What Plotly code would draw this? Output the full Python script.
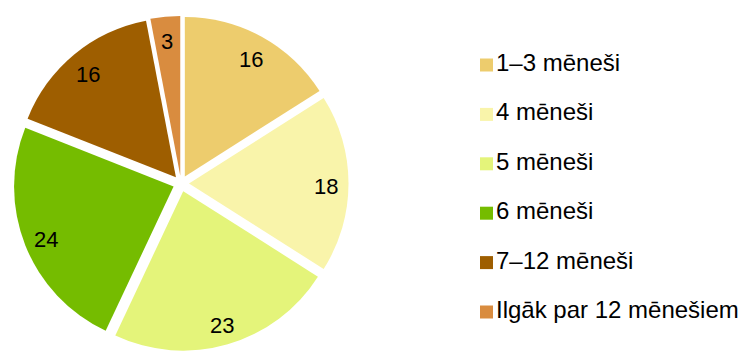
import math
import plotly.graph_objects as go

# Duration categories and their shares (%)
categories = ["1–3 mēneši", "4 mēneši", "5 mēneši", "6 mēneši", "7–12 mēneši", "Ilgāk par 12 mēnešiem"]
shares = [16, 18, 23, 24, 16, 3]
colors = ["#EDCC6D", "#F9F4AA", "#E4F47A", "#75BC00", "#9E5E00", "#D98C3F"]

FONT = "Liberation Sans, Arial, sans-serif"
W, H = 743, 351
TOP = 16
PULL = 0.05
PIE_X = [0, 362 / W]

fig = go.Figure()

fig.add_trace(go.Pie(
    labels=categories,
    values=shares,
    sort=False,
    direction="clockwise",
    rotation=0,
    pull=PULL,
    marker=dict(colors=colors, line=dict(color="white", width=0)),
    textinfo="none",
    domain=dict(x=PIE_X, y=[0, 1]),
    showlegend=False,
    hoverinfo="label+value",
))

# Value labels placed toward the outer edge of each slice
plot_h = H - TOP
cx = (PIE_X[0] + PIE_X[1]) / 2 * W          # pie centre, px from left
cy = TOP + plot_h / 2                        # pie centre, px from top
r_total = min((PIE_X[1] - PIE_X[0]) * W, plot_h) / 2
radius = r_total / (1 + PULL)
label_r = PULL * radius + 0.86 * radius

total = sum(shares)
cum = 0
for v in shares:
    mid = (cum + v / 2) / total * 2 * math.pi   # clockwise from 12 o'clock
    cum += v
    px = cx + label_r * math.sin(mid)
    py = cy - label_r * math.cos(mid)
    fig.add_annotation(
        x=px / W, y=(H - py) / plot_h, xref="paper", yref="paper",
        text=str(v), showarrow=False,
        xanchor="center", yanchor="middle", yshift=-3,
        font=dict(family=FONT, size=22, color="black"),
    )

# Legend column: square swatch plus label, one row per category
rows = list(range(len(categories)))
fig.add_trace(go.Scatter(
    x=[6.5] * len(categories),
    y=rows,
    mode="markers",
    marker=dict(symbol="square", size=13, color=colors, line=dict(width=0)),
    hoverinfo="skip",
    showlegend=False,
))
fig.add_trace(go.Scatter(
    x=[16] * len(categories),
    y=rows,
    mode="text",
    text=categories,
    textposition="middle right",
    textfont=dict(family=FONT, size=24, color="black"),
    hoverinfo="skip",
    showlegend=False,
))

x0 = 480
fig.update_layout(
    width=W,
    height=H,
    margin=dict(l=0, r=0, t=TOP, b=0),
    paper_bgcolor="white",
    plot_bgcolor="white",
    xaxis=dict(domain=[x0 / W, 1], range=[0, W - x0], visible=False, fixedrange=True),
    yaxis=dict(range=[(H - 65) / 49.4, (TOP - 65) / 49.4], visible=False, fixedrange=True),
)

fig.write_html("out.html")
